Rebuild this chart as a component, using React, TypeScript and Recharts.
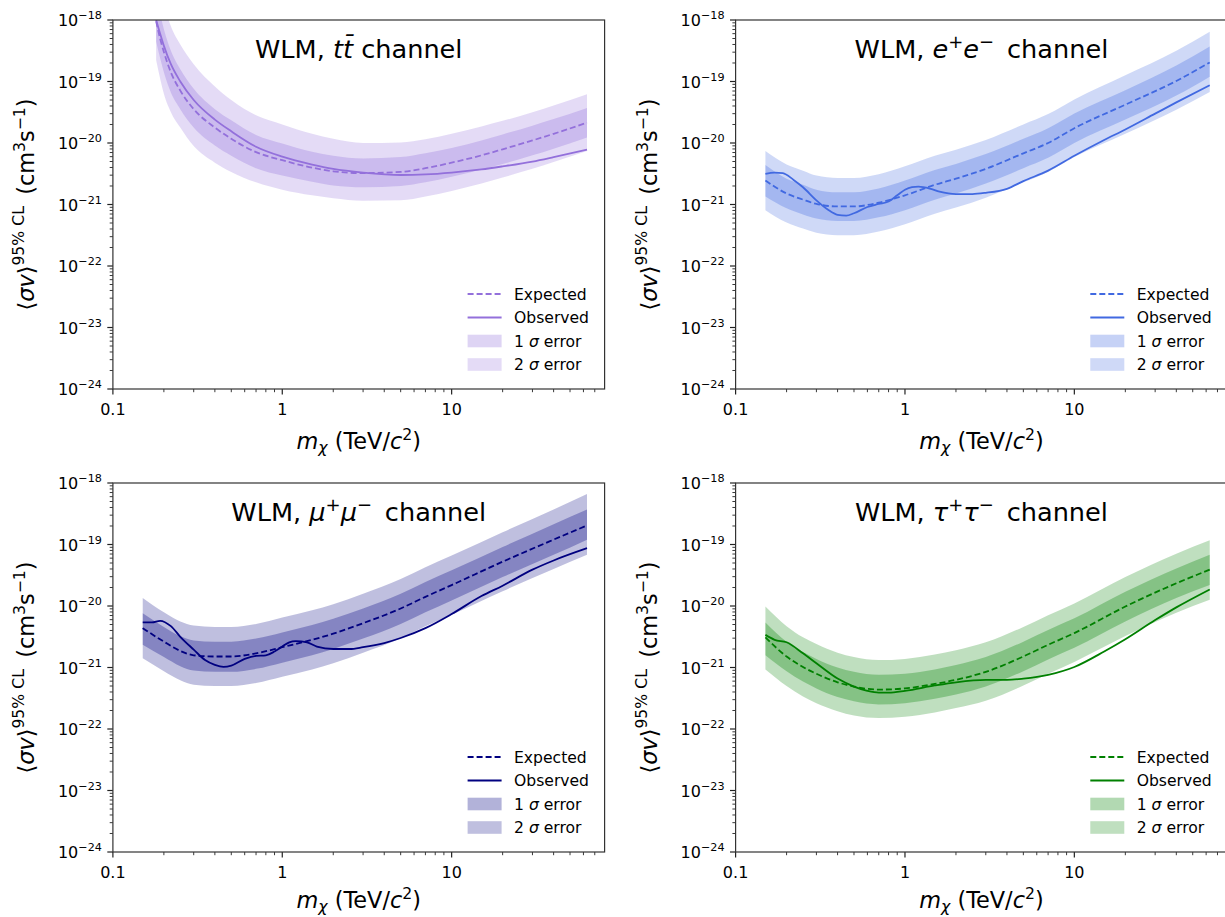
import React from 'react';
import { ComposedChart, Line, Area, XAxis, YAxis } from 'recharts';

// ---------------- data ----------------
// t tbar channel
const massTT = [0.18, 0.19, 0.2, 0.22, 0.25, 0.3, 0.4, 0.5, 0.7, 1, 1.5, 2, 3, 5, 7, 10, 15, 20, 30, 40, 63];
const expectedTT = [9.55e-19, 5.0e-19, 3.02e-19, 1.41e-19, 7.1e-20, 3.55e-20, 1.78e-20, 1.17e-20, 7.1e-21, 5.25e-21, 3.98e-21, 3.47e-21, 3.24e-21, 3.39e-21, 3.89e-21, 4.79e-21, 6.3e-21, 7.9e-21, 1.1e-20, 1.41e-20, 2.14e-20];
const observedTT = [1.0e-18, 6.0e-19, 3.8e-19, 1.91e-19, 1.0e-19, 5.0e-20, 2.4e-20, 1.55e-20, 8.7e-21, 6.0e-21, 4.47e-21, 3.8e-21, 3.31e-21, 3.02e-21, 3.09e-21, 3.31e-21, 3.72e-21, 4.17e-21, 5.0e-21, 5.9e-21, 7.8e-21];
const sig1HiTT = [2.51e-18, 1.26e-18, 7.1e-19, 3.16e-19, 1.58e-19, 7.6e-20, 3.55e-20, 2.34e-20, 1.35e-20, 9.8e-21, 7.2e-21, 6.2e-21, 5.6e-21, 5.9e-21, 6.8e-21, 8.3e-21, 1.1e-20, 1.38e-20, 1.91e-20, 2.45e-20, 3.72e-20];
const sig1LoTT = [4.47e-19, 2.4e-19, 1.41e-19, 6.6e-20, 3.55e-20, 1.78e-20, 9.1e-21, 6.2e-21, 3.89e-21, 2.95e-21, 2.34e-21, 2.04e-21, 1.91e-21, 2.0e-21, 2.29e-21, 2.82e-21, 3.72e-21, 4.57e-21, 6.3e-21, 8.1e-21, 1.23e-20];
const sig2HiTT = [6.3e-18, 3.16e-18, 1.78e-18, 7.9e-19, 3.98e-19, 1.91e-19, 8.3e-20, 5.0e-20, 2.82e-20, 2.0e-20, 1.41e-20, 1.17e-20, 1.0e-20, 1.02e-20, 1.15e-20, 1.41e-20, 1.86e-20, 2.29e-20, 3.16e-20, 4.07e-20, 6.2e-20];
const sig2LoTT = [2.24e-19, 1.12e-19, 6.3e-20, 3.16e-20, 1.78e-20, 8.9e-21, 4.79e-21, 3.39e-21, 2.29e-21, 1.74e-21, 1.41e-21, 1.26e-21, 1.15e-21, 1.17e-21, 1.35e-21, 1.66e-21, 2.19e-21, 2.75e-21, 3.8e-21, 4.9e-21, 7.4e-21];

// lepton channels: expected limit and bands share one mass grid
const massBand = [0.15, 0.2, 0.25, 0.3, 0.4, 0.5, 0.7, 1, 1.5, 2, 3, 5, 7, 10, 20, 40, 63];

// e+ e- channel
const expectedEE = [2.45e-21, 1.51e-21, 1.2e-21, 1.02e-21, 9.3e-22, 9.3e-22, 1.07e-21, 1.41e-21, 2.09e-21, 2.63e-21, 3.8e-21, 6.8e-21, 1.0e-20, 1.74e-20, 4.2e-20, 1.02e-19, 2.04e-19];
const sig1HiEE = [4.37e-21, 2.63e-21, 2.09e-21, 1.74e-21, 1.58e-21, 1.58e-21, 1.82e-21, 2.45e-21, 3.63e-21, 4.57e-21, 6.6e-21, 1.17e-20, 1.74e-20, 3.02e-20, 7.24e-20, 1.82e-19, 3.72e-19];
const sig1LoEE = [1.35e-21, 8.7e-22, 6.9e-22, 5.9e-22, 5.4e-22, 5.4e-22, 6.2e-22, 8.1e-22, 1.2e-21, 1.51e-21, 2.19e-21, 3.9e-21, 5.75e-21, 1.0e-20, 2.4e-20, 5.9e-20, 1.2e-19];
const sig2HiEE = [7.4e-21, 4.47e-21, 3.55e-21, 2.95e-21, 2.69e-21, 2.69e-21, 3.09e-21, 4.17e-21, 6.2e-21, 7.8e-21, 1.12e-20, 2.0e-20, 2.95e-20, 5.1e-20, 1.26e-19, 3.16e-19, 6.46e-19];
const sig2LoEE = [8.1e-22, 5.1e-22, 4.07e-22, 3.47e-22, 3.16e-22, 3.16e-22, 3.63e-22, 4.79e-22, 7.1e-22, 8.9e-22, 1.29e-21, 2.29e-21, 3.39e-21, 5.9e-21, 1.41e-20, 3.47e-20, 6.76e-20];
const massObsEE = [0.15, 0.17, 0.19, 0.22, 0.25, 0.3, 0.35, 0.4, 0.45, 0.5, 0.6, 0.7, 0.8, 0.9, 1.0, 1.1, 1.2, 1.4, 1.6, 2, 2.5, 3, 4, 5, 7, 10, 15, 20, 30, 40, 63];
const observedEE = [3.16e-21, 3.31e-21, 3.24e-21, 2.51e-21, 1.91e-21, 1.17e-21, 8.3e-22, 6.8e-22, 6.6e-22, 7.2e-22, 9.1e-22, 1.02e-21, 1.12e-21, 1.41e-21, 1.74e-21, 1.91e-21, 1.95e-21, 1.82e-21, 1.62e-21, 1.48e-21, 1.48e-21, 1.55e-21, 1.8e-21, 2.4e-21, 3.55e-21, 6.2e-21, 1.12e-20, 1.66e-20, 3.0e-20, 4.57e-20, 8.7e-20];

// mu+ mu- channel
const expectedMM = [4.37e-21, 2.63e-21, 1.86e-21, 1.58e-21, 1.51e-21, 1.51e-21, 1.7e-21, 2.14e-21, 2.82e-21, 3.55e-21, 5.25e-21, 9.1e-21, 1.41e-20, 2.19e-20, 5.25e-20, 1.2e-19, 2.04e-19];
const sig1HiMM = [7.6e-21, 4.57e-21, 3.24e-21, 2.75e-21, 2.63e-21, 2.63e-21, 2.95e-21, 3.72e-21, 4.9e-21, 6.2e-21, 9.1e-21, 1.58e-20, 2.45e-20, 3.8e-20, 9.1e-20, 2.14e-19, 3.72e-19];
const sig1LoMM = [2.34e-21, 1.48e-21, 1.05e-21, 8.9e-22, 8.5e-22, 8.5e-22, 9.5e-22, 1.2e-21, 1.58e-21, 2.0e-21, 2.95e-21, 5.1e-21, 7.9e-21, 1.23e-20, 2.95e-20, 6.8e-20, 1.2e-19];
const sig2HiMM = [1.35e-20, 7.9e-21, 5.6e-21, 4.8e-21, 4.57e-21, 4.57e-21, 5.1e-21, 6.5e-21, 8.5e-21, 1.07e-20, 1.58e-20, 2.75e-20, 4.27e-20, 6.6e-20, 1.58e-19, 3.72e-19, 6.6e-19];
const sig2LoMM = [1.41e-21, 8.7e-22, 6.2e-22, 5.25e-22, 5.0e-22, 5.0e-22, 5.6e-22, 7.1e-22, 9.3e-22, 1.17e-21, 1.74e-21, 3.0e-21, 4.7e-21, 7.2e-21, 1.74e-20, 4.0e-20, 6.8e-20];
const massObsMM = [0.15, 0.17, 0.19, 0.22, 0.25, 0.3, 0.35, 0.4, 0.45, 0.5, 0.6, 0.7, 0.8, 0.9, 1.0, 1.1, 1.2, 1.4, 1.6, 2, 2.5, 3, 4, 5, 7, 10, 15, 20, 30, 40, 63];
const observedMM = [5.4e-21, 5.4e-21, 5.75e-21, 4.7e-21, 3.16e-21, 1.95e-21, 1.32e-21, 1.1e-21, 1.02e-21, 1.07e-21, 1.38e-21, 1.55e-21, 1.58e-21, 1.82e-21, 2.19e-21, 2.57e-21, 2.69e-21, 2.57e-21, 2.19e-21, 2.0e-21, 2.0e-21, 2.14e-21, 2.5e-21, 3.02e-21, 4.37e-21, 7.4e-21, 1.45e-20, 2.14e-20, 3.9e-20, 5.5e-20, 8.7e-20];

// tau+ tau- channel
const expectedTau = [3.09e-21, 1.51e-21, 1.02e-21, 7.9e-22, 5.75e-22, 4.9e-22, 4.37e-22, 4.57e-22, 5.4e-22, 6.3e-22, 8.5e-22, 1.51e-21, 2.34e-21, 3.63e-21, 9.8e-21, 2.34e-20, 3.9e-20];
const sig1HiTau = [5.4e-21, 2.63e-21, 1.78e-21, 1.38e-21, 1.0e-21, 8.5e-22, 7.6e-22, 7.9e-22, 9.3e-22, 1.1e-21, 1.48e-21, 2.63e-21, 4.07e-21, 6.3e-21, 1.7e-20, 4.07e-20, 6.8e-20];
const sig1LoTau = [1.58e-21, 8.7e-22, 5.9e-22, 4.57e-22, 3.3e-22, 2.82e-22, 2.51e-22, 2.63e-22, 3.09e-22, 3.63e-22, 4.9e-22, 8.7e-22, 1.35e-21, 2.09e-21, 5.6e-21, 1.35e-20, 2.19e-20];
const sig2HiTau = [9.8e-21, 4.7e-21, 3.09e-21, 2.4e-21, 1.74e-21, 1.48e-21, 1.32e-21, 1.38e-21, 1.62e-21, 1.91e-21, 2.57e-21, 4.57e-21, 7.1e-21, 1.1e-20, 2.95e-20, 7.1e-20, 1.17e-19];
const sig2LoTau = [9.3e-22, 5.0e-22, 3.39e-22, 2.63e-22, 1.95e-22, 1.66e-22, 1.51e-22, 1.58e-22, 1.86e-22, 2.19e-22, 2.88e-22, 5.1e-22, 7.9e-22, 1.23e-21, 3.24e-21, 7.8e-21, 1.26e-20];
const massObsTau = [0.15, 0.17, 0.2, 0.25, 0.3, 0.4, 0.5, 0.6, 0.7, 0.8, 1, 1.5, 2, 3, 4, 5, 7, 10, 15, 20, 30, 40, 63];
const observedTau = [3.39e-21, 2.82e-21, 2.57e-21, 1.7e-21, 1.17e-21, 6.6e-22, 4.9e-22, 4.17e-22, 3.9e-22, 3.9e-22, 4.17e-22, 5.1e-22, 5.75e-22, 6.3e-22, 6.3e-22, 6.6e-22, 7.6e-22, 1.02e-21, 1.82e-21, 2.88e-21, 5.9e-21, 9.5e-21, 1.86e-20];

// axes ticks
const xMajorTicks = [0.1, 1, 10];
const xMajorLabels = ['0.1', '1', '10'];
const xMinorTicks = [0.2, 0.3, 0.4, 0.5, 0.6, 0.7, 0.8, 0.9, 2, 3, 4, 5, 6, 7, 8, 9, 20, 30, 40, 50, 60, 70];
const yMajorTicks = [1e-24, 1e-23, 1e-22, 1e-21, 1e-20, 1e-19, 1e-18];
const yMajorExponents = ['\u221224', '\u221223', '\u221222', '\u221221', '\u221220', '\u221219', '\u221218'];
const yMinorMultipliers = [2, 3, 4, 5, 6, 7, 8, 9];
const legendLabels = ['Expected', 'Observed', '1', '2'];

// ---------------- layout / style ----------------
const FONT = "'DejaVu Sans', sans-serif";
const CW = 620;
const CH = 460;
const PW = 491.7;
const PH = 369;
const YW = 100;
const XH = 50;
const X_DOMAIN: [number, number] = [0.1, 80];
const Y_DOMAIN: [number, number] = [1e-24, 1e-18];

const xTicks = [...xMajorTicks, ...xMinorTicks].sort((a, b) => a - b);
const yTicks: number[] = [];
yMajorTicks.forEach((t, i) => {
  yTicks.push(t);
  if (i < yMajorTicks.length - 1) yMinorMultipliers.forEach((m) => yTicks.push(m * t));
});

const isDecade = (v: number) => {
  const l = Math.log10(v);
  return Math.abs(l - Math.round(l)) < 1e-6;
};

const line = (mass: number[], vals: number[]) => mass.map((m, i) => ({ m, v: vals[i] }));
const band = (mass: number[], lo: number[], hi: number[]) => mass.map((m, i) => ({ m, v: [lo[i], hi[i]] }));

const XTick = (props: any) => {
  const { x, y, payload } = props;
  const v = payload.value;
  const major = isDecade(v);
  const idx = xMajorTicks.findIndex((t) => Math.abs(Math.log10(t) - Math.log10(v)) < 1e-6);
  return (
    <g>
      <line x1={x} x2={x} y1={y} y2={y + (major ? 5.6 : 3.2)} stroke="#222" strokeWidth={major ? 1.2 : 0.9} />
      {major && idx >= 0 && (
        <text x={x} y={y + 26} textAnchor="middle" fontSize={16} fontFamily={FONT} fill="#000">
          {xMajorLabels[idx]}
        </text>
      )}
    </g>
  );
};

const YTick = (props: any) => {
  const { x, y, payload } = props;
  const v = payload.value;
  const major = isDecade(v);
  const idx = yMajorTicks.findIndex((t) => Math.abs(Math.log10(t) - Math.log10(v)) < 1e-6);
  return (
    <g>
      <line x1={x} x2={x - (major ? 5.6 : 3.2)} y1={y} y2={y} stroke="#222" strokeWidth={major ? 1.2 : 0.9} />
      {major && idx >= 0 && (
        <text x={x - 11} y={y + 6} textAnchor="end" fontSize={16} fontFamily={FONT} fill="#000">
          10
          <tspan dy={-7} fontSize={11.2}>{yMajorExponents[idx]}</tspan>
        </text>
      )}
    </g>
  );
};

type PanelCfg = {
  key: string;
  cx: number;
  cy: number;
  plotLeft: number;
  plotTop: number;
  labelDrop: number;
  color: string;
  title: React.ReactNode;
  bandMass: number[];
  expected: number[];
  s1lo: number[];
  s1hi: number[];
  s2lo: number[];
  s2hi: number[];
  obsMass: number[];
  observed: number[];
};

const supStyle = { fontSize: 18 };

const panels: PanelCfg[] = [
  {
    key: 'tt', cx: 0, cy: 0, plotLeft: 112.9, plotTop: 20, labelDrop: 60, color: '#9370DB',
    title: (<>WLM, <tspan fontStyle="italic">t</tspan><tspan fontStyle="italic">{'t\u0304'}</tspan> channel</>),
    bandMass: massTT, expected: expectedTT, s1lo: sig1LoTT, s1hi: sig1HiTT, s2lo: sig2LoTT, s2hi: sig2HiTT,
    obsMass: massTT, observed: observedTT,
  },
  {
    key: 'ee', cx: 620, cy: 0, plotLeft: 735.6, plotTop: 20, labelDrop: 60, color: '#4169E1',
    title: (<>WLM, <tspan fontStyle="italic">e</tspan><tspan dy={-10} {...supStyle}>+</tspan><tspan dy={10} fontStyle="italic">e</tspan><tspan dy={-10} {...supStyle}>{'\u2212'}</tspan><tspan dy={10}>{'\u2002channel'}</tspan></>),
    bandMass: massBand, expected: expectedEE, s1lo: sig1LoEE, s1hi: sig1HiEE, s2lo: sig2LoEE, s2hi: sig2HiEE,
    obsMass: massObsEE, observed: observedEE,
  },
  {
    key: 'mm', cx: 0, cy: 460, plotLeft: 112.9, plotTop: 483, labelDrop: 56, color: '#000080',
    title: (<>WLM, <tspan fontStyle="italic">μ</tspan><tspan dy={-10} {...supStyle}>+</tspan><tspan dy={10} fontStyle="italic">μ</tspan><tspan dy={-10} {...supStyle}>{'\u2212'}</tspan><tspan dy={10}>{'\u2002channel'}</tspan></>),
    bandMass: massBand, expected: expectedMM, s1lo: sig1LoMM, s1hi: sig1HiMM, s2lo: sig2LoMM, s2hi: sig2HiMM,
    obsMass: massObsMM, observed: observedMM,
  },
  {
    key: 'tau', cx: 620, cy: 460, plotLeft: 735.6, plotTop: 483, labelDrop: 56, color: '#008000',
    title: (<>WLM, <tspan fontStyle="italic">τ</tspan><tspan dy={-10} {...supStyle}>+</tspan><tspan dy={10} fontStyle="italic">τ</tspan><tspan dy={-10} {...supStyle}>{'\u2212'}</tspan><tspan dy={10}>{'\u2002channel'}</tspan></>),
    bandMass: massBand, expected: expectedTau, s1lo: sig1LoTau, s1hi: sig1HiTau, s2lo: sig2LoTau, s2hi: sig2HiTau,
    obsMass: massObsTau, observed: observedTau,
  },
];

const A2 = 0.25;
const A1 = 0.3;
const LW = 1.8;
const DASH = '6 3';

function Panel({ p }: { p: PanelCfg }) {
  const pl = p.plotLeft - p.cx;
  const pt = p.plotTop - p.cy;
  const margin = { top: pt, left: pl - YW, right: CW - pl - PW, bottom: CH - pt - PH - XH };
  const band2 = band(p.bandMass, p.s2lo, p.s2hi);
  const band1 = band(p.bandMass, p.s1lo, p.s1hi);
  const exp = line(p.bandMass, p.expected);
  const obs = line(p.obsMass, p.observed);
  const R = pl + PW;
  const B = pt + PH;
  const rows = [B - 95, B - 71.5, B - 48, B - 24.5];
  const lx1 = R - 137;
  const lx2 = R - 103;
  const tx = R - 90.6;
  const cxMid = pl + PW / 2;
  return (
    <div style={{ position: 'absolute', left: p.cx, top: p.cy, width: CW, height: CH }}>
      <ComposedChart width={CW} height={CH} margin={margin}>
        <XAxis dataKey="m" type="number" scale="log" domain={X_DOMAIN} allowDataOverflow ticks={xTicks}
          interval={0} tick={<XTick />} tickSize={0} tickMargin={0} axisLine={false} tickLine={false} height={XH} />
        <YAxis type="number" scale="log" domain={Y_DOMAIN} allowDataOverflow ticks={yTicks}
          interval={0} tick={<YTick />} tickSize={0} tickMargin={0} axisLine={false} tickLine={false} width={YW} />
        <Area data={band2} dataKey="v" type="monotone" stroke="none" fill={p.color} fillOpacity={A2}
          isAnimationActive={false} dot={false} activeDot={false} />
        <Area data={band1} dataKey="v" type="monotone" stroke="none" fill={p.color} fillOpacity={A1}
          isAnimationActive={false} dot={false} activeDot={false} />
        <Line data={exp} dataKey="v" type="monotone" stroke={p.color} strokeWidth={LW} strokeDasharray={DASH}
          dot={false} activeDot={false} isAnimationActive={false} />
        <Line data={obs} dataKey="v" type="monotone" stroke={p.color} strokeWidth={LW}
          dot={false} activeDot={false} isAnimationActive={false} />
      </ComposedChart>
      <svg width={CW} height={CH} style={{ position: 'absolute', left: 0, top: 0, pointerEvents: 'none', overflow: 'visible' }}
        fontFamily={FONT}>
        <rect x={pl} y={pt} width={PW} height={PH} fill="none" stroke="#333" strokeWidth={1.2} />
        <text x={cxMid} y={pt + 37.7} textAnchor="middle" fontSize={25.6} fill="#000">{p.title}</text>
        <text x={cxMid} y={B + p.labelDrop} textAnchor="middle" fontSize={22.4} fill="#000">
          <tspan fontStyle="italic">m</tspan>
          <tspan fontStyle="italic" fontSize={15.7} dy={4}>χ</tspan>
          <tspan dy={-4}> (TeV/</tspan>
          <tspan fontStyle="italic">c</tspan>
          <tspan fontSize={15.7} dy={-9}>2</tspan>
          <tspan dy={9}>)</tspan>
        </text>
        <text transform={`translate(${pl - 79},${pt + PH / 2}) rotate(-90)`} textAnchor="middle" fontSize={22.4} fill="#000">
          {'\u27E8'}
          <tspan fontStyle="italic">σv</tspan>
          {'\u27E9'}
          <tspan dy={-10} fontSize={15.7}>95% CL</tspan>
          <tspan dy={10}>{'\u2002(cm'}</tspan>
          <tspan dy={-9} fontSize={15.7}>3</tspan>
          <tspan dy={9}>s</tspan>
          <tspan dy={-9} fontSize={15.7}>{'\u22121'}</tspan>
          <tspan dy={9}>)</tspan>
        </text>
        {/* legend */}
        <line x1={lx1} x2={lx2} y1={rows[0]} y2={rows[0]} stroke={p.color} strokeWidth={LW} strokeDasharray={DASH} />
        <text x={tx} y={rows[0] + 5.6} fontSize={15.6} fill="#000">{legendLabels[0]}</text>
        <line x1={lx1} x2={lx2} y1={rows[1]} y2={rows[1]} stroke={p.color} strokeWidth={LW} />
        <text x={tx} y={rows[1] + 5.6} fontSize={15.6} fill="#000">{legendLabels[1]}</text>
        <rect x={lx1} y={rows[2] - 6.3} width={lx2 - lx1} height={12.6} fill={p.color} fillOpacity={A1} />
        <text x={tx} y={rows[2] + 5.6} fontSize={15.6} fill="#000">{legendLabels[2]} <tspan fontStyle="italic">σ</tspan> error</text>
        <rect x={lx1} y={rows[3] - 6.3} width={lx2 - lx1} height={12.6} fill={p.color} fillOpacity={A2} />
        <text x={tx} y={rows[3] + 5.6} fontSize={15.6} fill="#000">{legendLabels[3]} <tspan fontStyle="italic">σ</tspan> error</text>
      </svg>
    </div>
  );
}

export default function App() {
  return (
    <div style={{ position: 'absolute', left: 0, top: 0, width: 1225, height: 917, overflow: 'hidden', background: '#fff', fontFamily: FONT }}>
      {panels.map((p) => (
        <Panel key={p.key} p={p} />
      ))}
    </div>
  );
}
